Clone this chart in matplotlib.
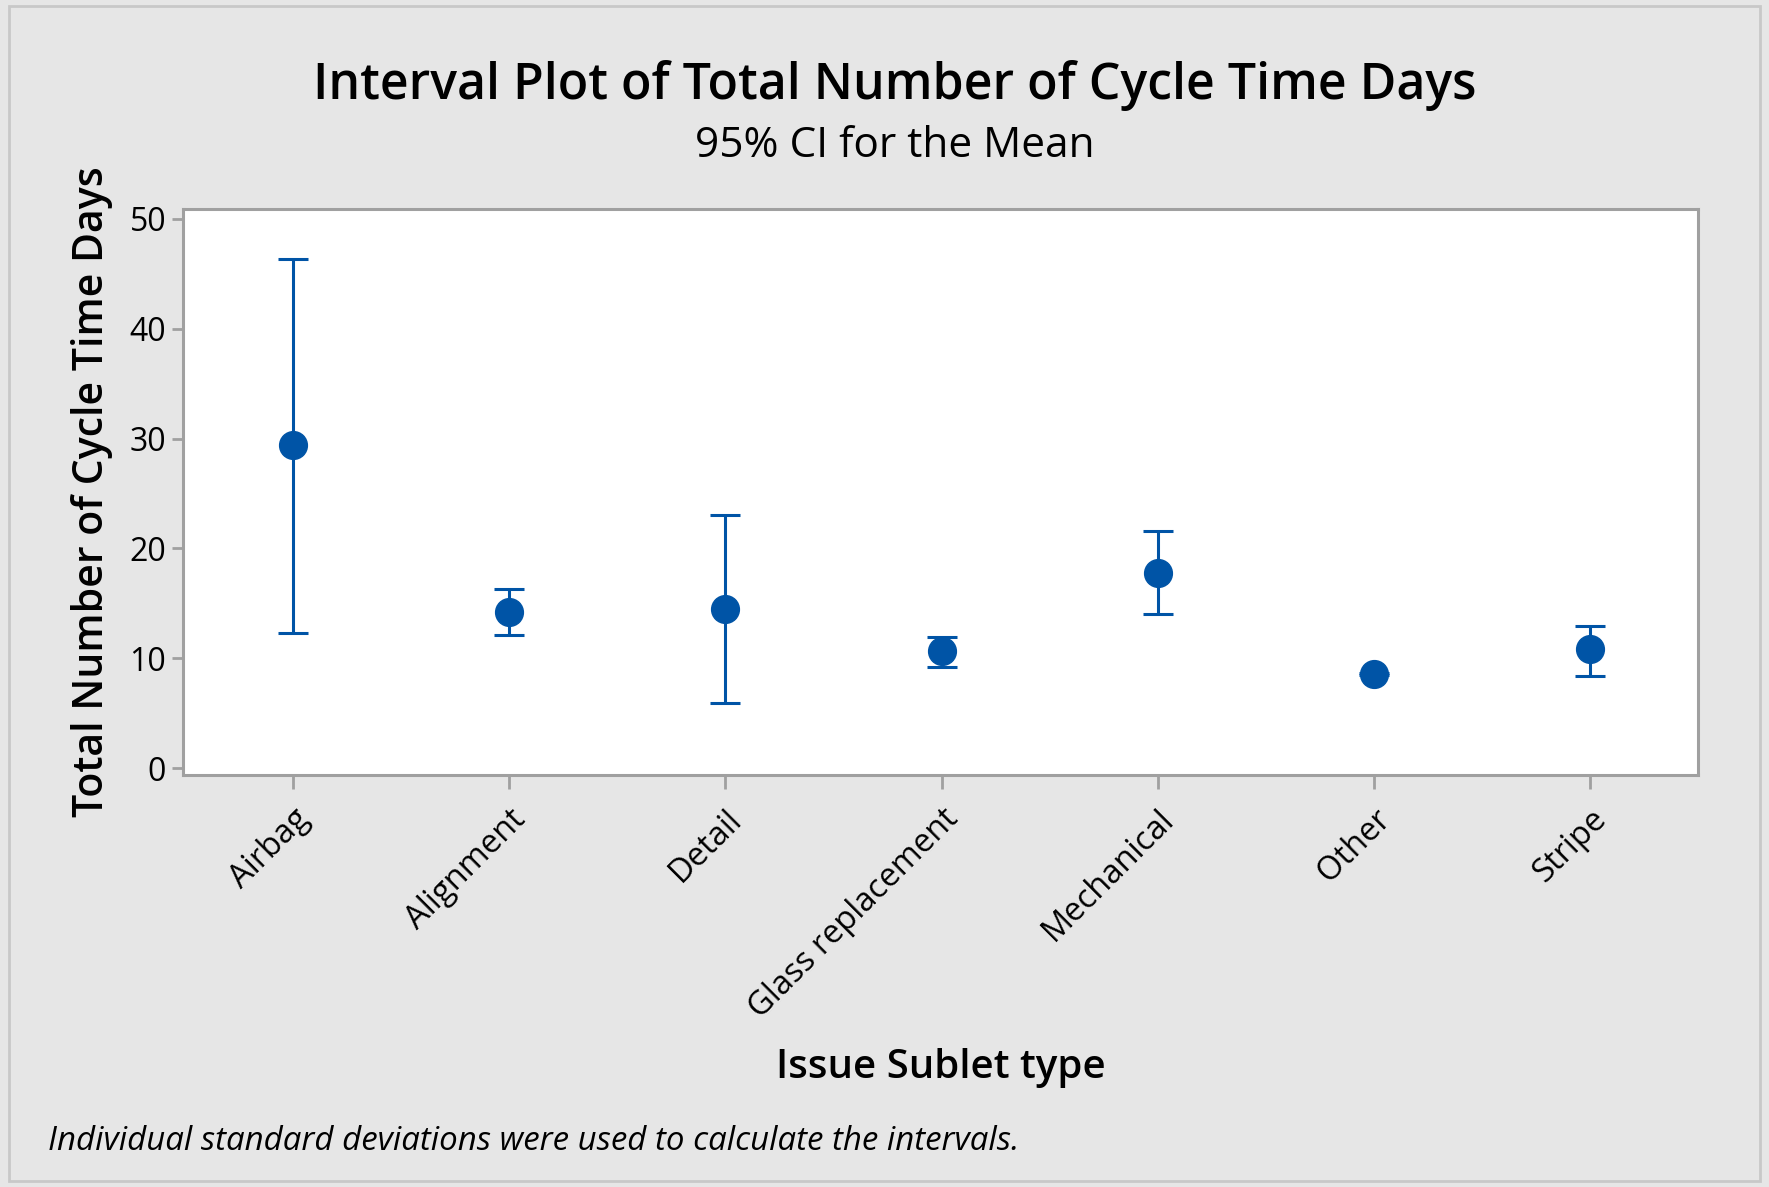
# interval plot of cycle time days, 95% CI for the mean

import matplotlib
matplotlib.use('Agg')
import matplotlib.pyplot as plt
from matplotlib.patches import Rectangle

# data
categories = ['Airbag', 'Alignment', 'Detail', 'Glass replacement',
              'Mechanical', 'Other', 'Stripe']
means = [29.4, 14.2, 14.5, 10.7, 17.8, 8.6, 10.8]
lower = [12.3, 12.1, 5.9, 9.2, 14.0, 8.5, 8.4]
upper = [46.3, 16.3, 23.0, 11.9, 21.6, 8.7, 12.9]
y_ticks = [0, 10, 20, 30, 40, 50]

blue = '#0054a6'
grey = '#a0a0a0'
bg = '#e6e6e6'

plt.rcParams['font.family'] = ['Open Sans', 'DejaVu Sans']

fig = plt.figure(figsize=(17.69, 11.87), dpi=100, facecolor=bg)
ax = fig.add_axes([0.1034, 0.347, 0.8566, 0.477])
ax.set_facecolor('white')

# outer frame of the graph window
fig.patches.append(Rectangle((0.005, 0.005), 0.99, 0.99, transform=fig.transFigure,
                             fill=False, edgecolor='#c8c8c8', linewidth=2))

x = list(range(len(categories)))
err_lo = [m - l for m, l in zip(means, lower)]
err_hi = [u - m for m, u in zip(means, upper)]
ax.errorbar(x, means, yerr=[err_lo, err_hi], fmt='o', color=blue,
            ecolor=blue, markersize=20, elinewidth=2.2, capsize=10.5,
            capthick=2.2)

ax.set_xlim(-0.51, 6.5)
ax.set_ylim(-0.64, 50.9)
ax.set_yticks(y_ticks)
ax.set_xticks(x)
ax.set_xticklabels(categories, rotation=45, ha='right', va='top',
                   rotation_mode='anchor', fontsize=23.5)
ax.tick_params(axis='y', labelsize=23, length=8, width=2, color=grey, pad=4)
ax.tick_params(axis='x', length=10, width=2, color=grey, pad=10)

for s in ax.spines.values():
    s.set_color(grey)
    s.set_linewidth(2.2)

ax.set_ylabel('Total Number of Cycle Time Days', fontsize=29.5,
              fontweight='semibold', labelpad=12)
ax.set_xlabel('Issue Sublet type', fontsize=29, fontweight='semibold', labelpad=16)

fig.text(0.506, 0.928, 'Interval Plot of Total Number of Cycle Time Days',
         ha='center', va='center', fontsize=36, fontweight='semibold')
fig.text(0.506, 0.877, '95% CI for the Mean', ha='center', va='center',
         fontsize=30.5, fontweight='medium')
fig.text(0.027, 0.038,
         'Individual standard deviations were used to calculate the intervals.',
         ha='left', va='center', fontsize=23.8, style='italic')

fig.savefig('out.png', dpi=100, facecolor=bg)
